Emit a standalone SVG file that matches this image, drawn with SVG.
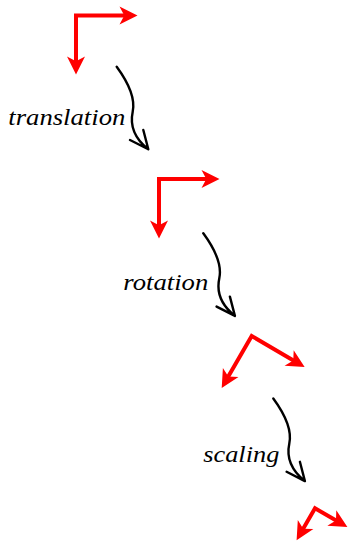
<svg xmlns="http://www.w3.org/2000/svg" width="348" height="543" viewBox="0 0 348 543">
<style>
.frame{fill:none;stroke:#ff0000;stroke-width:4;stroke-linejoin:miter;marker-start:url(#rh);marker-end:url(#rh)}
.conn{fill:none;stroke:#000;stroke-width:2.4;stroke-linecap:round;stroke-linejoin:round}
.lbl{font-family:"Liberation Serif","Times New Roman",serif;font-style:italic;font-size:24px;fill:#000}
</style>
<defs>
<marker id="rh" markerUnits="userSpaceOnUse" markerWidth="30" markerHeight="30" viewBox="-10 -10 25 20" refX="0" refY="0" orient="auto-start-reverse" overflow="visible">
<path d="M10,0 L-5,-7.5 L-1,0 L-5,7.5 Z" fill="#ff0000"/>
</marker>
<path id="sq" d="M0,0 C11,15 19,31 16,45 C13,59 17,71 31.6,82.6 M13.3,73.3 L31.6,82.6 L26.6,63.3"/>
</defs>
<g id="frame1"><path class="frame" d="M125.5,15.5 L76,15.5 L76,62.5"/></g>
<g id="frame2"><path class="frame" d="M207.5,179 L159,179 L159,226.5"/></g>
<g id="frame3"><path class="frame" d="M294.3,361 L251.7,336 L227.7,377.6"/></g>
<g id="frame4"><path class="frame" d="M337,521 L315,508.3 L302.6,529.8"/></g>
<g id="connectors">
<use href="#sq" class="conn" transform="translate(116.7,66.7)"/>
<use href="#sq" class="conn" transform="translate(203.3,233.3)"/>
<use href="#sq" class="conn" transform="translate(273.3,398.5)"/>
</g>
<g id="labels">
<text class="lbl" x="8.3" y="125" textLength="117" lengthAdjust="spacingAndGlyphs">translation</text>
<text class="lbl" x="123.3" y="290" textLength="85" lengthAdjust="spacingAndGlyphs">rotation</text>
<text class="lbl" x="203.3" y="461.5" textLength="76" lengthAdjust="spacingAndGlyphs">scaling</text>
</g>
</svg>
